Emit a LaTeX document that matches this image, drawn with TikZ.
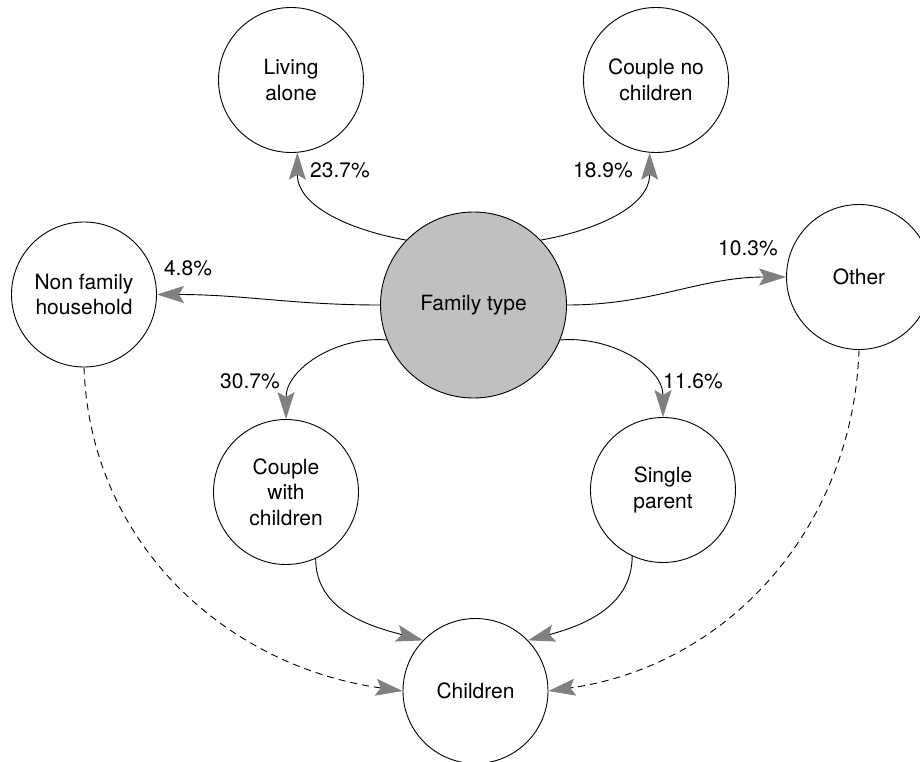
\documentclass[tikz,border=0pt]{standalone}
\usepackage{fontspec}
\setmainfont{TeX Gyre Heros}
\usetikzlibrary{arrows.meta}
\definecolor{hubgray}{RGB}{192,192,192}
\definecolor{tipgray}{RGB}{128,128,128}
\tikzset{
  unit/.style={circle,draw,line width=0.9pt,minimum size=145pt,inner sep=0pt,
    align=center,font=\fontsize{21}{25.5}\selectfont},
  hub/.style={unit,fill=hubgray,minimum size=186pt},
  pct/.style={inner sep=0pt,font=\fontsize{21}{25.5}\selectfont},
  flow/.style={line width=0.9pt,-{Stealth[length=27pt,width=17pt,inset=5pt,color=tipgray]}},
  side/.style={flow,dash pattern=on 7pt off 5pt}
}

\begin{document}
\begin{tikzpicture}[x=1pt,y=1pt]
\useasboundingbox (0,0) rectangle (920,-762);
% household types
\node[hub] (fam) at (473.5,-305) {Family type};
\node[unit] (alone) at (291,-80) {Living\\alone};
\node[unit] (nochild) at (656,-80) {Couple no\\children};
\node[unit] (nonfam) at (84,-294.5) {Non family\\household};
\node[unit] (other) at (859,-277) {Other};
\node[unit] (withchild) at (286,-492) {Couple\\with\\children};
\node[unit] (single) at (663,-490) {Single\\parent};
\node[unit] (children) at (475.5,-691) {Children};
% shares
\node[pct] (palone) at (340,-170) {23.7\%};
\node[pct] (pnochild) at (603,-170) {18.9\%};
\node[pct] (pnonfam) at (188,-268) {4.8\%};
\node[pct] (pother) at (748,-248) {10.3\%};
\node[pct] (pwithchild) at (250,-381) {30.7\%};
\node[pct] (psingle) at (693,-381) {11.6\%};
% links out of the hub
\draw[flow] (fam.136) to[out=170,in=-90] (alone.-85);
\draw[flow] (fam.44) to[out=10,in=-90] (nochild.-95);
\draw[flow] (fam.180) to[out=180,in=0] (nonfam.east);
\draw[flow] (fam.0) to[out=0,in=180] (other.west);
\draw[flow] (fam.202) to[out=175,in=90] (withchild.north);
\draw[flow] (fam.338) to[out=5,in=90] (single.north);
% links into children
\draw[flow] (withchild.-66) to[out=-90,in=165] (children.136);
\draw[flow] (single.-115) to[out=-90,in=15] (children.44);
\draw[side] (nonfam.south) to[out=-88,in=172] (children.west);
\draw[side] (other.south) to[out=-92,in=8] (children.east);
\end{tikzpicture}
\end{document}
